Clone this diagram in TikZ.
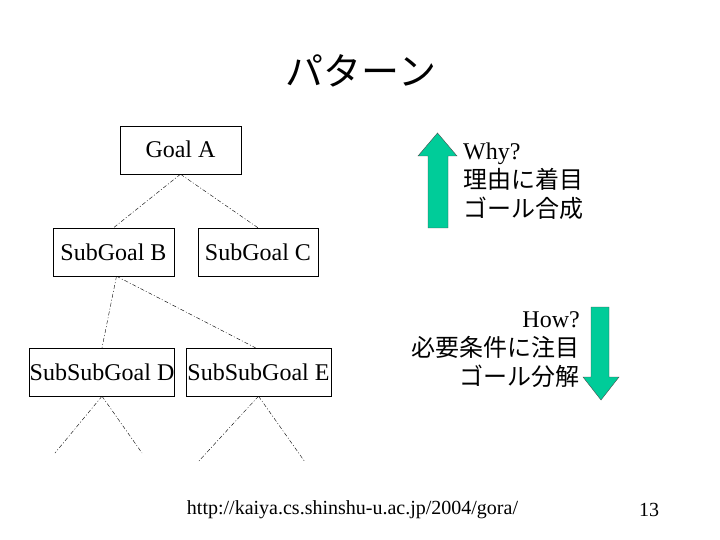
\documentclass[tikz,border=0pt]{standalone}
\usepackage{fontspec}
\setmainfont{Liberation Serif}
\newfontfamily\jp{Noto Sans CJK JP}
\definecolor{arrowgreen}{RGB}{0,204,153}

\begin{document}
\begin{tikzpicture}[
  x=1pt, y=-1pt,
  every node/.style={font=\fontsize{24}{29}\selectfont, inner sep=0pt},
  goalbox/.style={draw, thin, minimum height=48pt, text height=16pt, text depth=0pt},
  link/.style={thin, dash pattern=on 4pt off 2pt on 1pt off 2pt},
  bigarrow/.style={fill=arrowgreen, draw=black!70, thin}
]
  \useasboundingbox (0,0) rectangle (720,540);
  \node[font=\jp\fontsize{38}{40}\selectfont] (title) at (361,71) {パターン};

  % goal tree
  \node[goalbox, minimum width=121pt] (ga) at (180.5,150) {Goal A};
  \node[goalbox, minimum width=121pt] (sb) at (113.5,252) {SubGoal B};
  \node[goalbox, minimum width=120pt] (sc) at (258,252) {SubGoal C};
  \node[goalbox, minimum width=144pt] (sd) at (102,372) {SubSubGoal D};
  \node[goalbox, minimum width=145pt] (se) at (258.5,372) {SubSubGoal E};
  \coordinate (d1) at (55,453);
  \coordinate (d2) at (142,453);
  \coordinate (e1) at (198,462);
  \coordinate (e2) at (305,462);
  \draw[link] (ga.south) -- (sb.north);
  \draw[link] (ga.south) -- (sc.north);
  \draw[link] ([xshift=3pt]sb.south) -- (sd.north);
  \draw[link] ([xshift=3pt]sb.south) -- ([xshift=-3pt]se.north);
  \draw[link] (sd.south) -- (d1);
  \draw[link] (sd.south) -- (d2);
  \draw[link] (se.south) -- (e1);
  \draw[link] (se.south) -- (e2);

  % why / how
  \draw[bigarrow] (428,228) -- (428,156) -- (418,156) -- (437.5,133) -- (457,156)
    -- (448,156) -- (448,228) -- cycle;
  \node[anchor=west, align=left] (why) at (463,181)
    {Why?\\{\jp 理由に着目}\\{\jp ゴール合成}};
  \draw[bigarrow] (591,307) -- (591,377) -- (583,377) -- (601,400) -- (619,377)
    -- (609,377) -- (609,307) -- cycle;
  \node[anchor=east, align=right] (how) at (580,350)
    {How?\\{\jp 必要条件に注目}\\{\jp ゴール分解}};

  \node[font=\fontsize{20}{24}\selectfont] (url) at (352.5,510)
    {http://kaiya.cs.shinshu-u.ac.jp/2004/gora/};
  \node[font=\fontsize{20}{24}\selectfont] (page) at (649,510) {13};
\end{tikzpicture}
\end{document}
